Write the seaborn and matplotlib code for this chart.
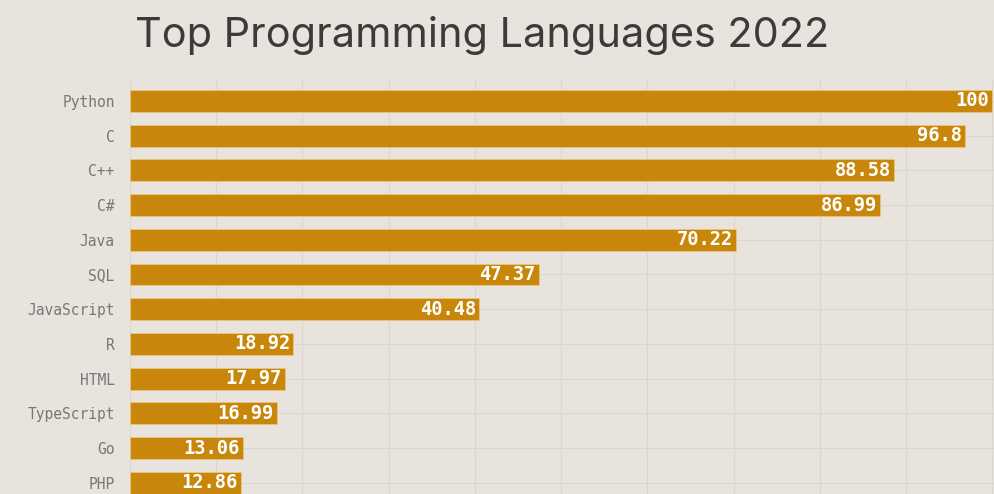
import matplotlib
matplotlib.use("Agg")
import matplotlib.pyplot as plt
import seaborn as sns
import pandas as pd

# Data
languages = ["Python", "C", "C++", "C#", "Java", "SQL", "JavaScript",
             "R", "HTML", "TypeScript", "Go", "PHP"]
scores = [100, 96.8, 88.58, 86.99, 70.22, 47.37, 40.48,
          18.92, 17.97, 16.99, 13.06, 12.86]
score_labels = ["100", "96.8", "88.58", "86.99", "70.22", "47.37", "40.48",
                "18.92", "17.97", "16.99", "13.06", "12.86"]

df = pd.DataFrame({"language": languages, "score": scores})

bg = "#e8e3dc"
bar_color = "#c8870a"

sns.set_theme(style="whitegrid")
plt.rcParams["font.family"] = ["DejaVu Sans"]

fig = plt.figure(figsize=(9.95, 4.94), dpi=100, facecolor=bg)
ax = fig.add_axes([130 / 995, 0, 865 / 995, 1 - 80 / 494])
ax.set_facecolor(bg)

sns.barplot(data=df, x="score", y="language", color=bar_color,
            width=0.63, saturation=1, ax=ax, zorder=3,
            edgecolor="#e9c77e", linewidth=0.6)

ax.set_xlim(0, 100.3)
ax.set_ylim(11.32, -0.6)
ax.set_xticks(range(0, 101, 10))
ax.tick_params(axis="x", bottom=False, labelbottom=False)
ax.tick_params(axis="y", left=False, length=0, pad=11, labelsize=10.5,
               labelcolor="#777777")
for lbl in ax.get_yticklabels():
    lbl.set_family("DejaVu Sans Mono")
ax.grid(True, color="#dcd6ce", linewidth=0.8)
ax.set_xlabel("")
ax.set_ylabel("")
for s in ax.spines.values():
    s.set_visible(False)

# value labels inside the bar ends
for i, (v, t) in enumerate(zip(scores, score_labels)):
    ax.text(v - 0.35, i, t, ha="right", va="center", color="white",
            fontsize=13.5, fontweight="bold", family="DejaVu Sans Mono",
            zorder=4)

fig.text(135 / 995, 1 - 47 / 494, "Top Programming Languages 2022",
         fontsize=29.8, color="#3b3b3b", family="Inter", va="baseline")

fig.savefig("out.png", dpi=100, facecolor=bg)
